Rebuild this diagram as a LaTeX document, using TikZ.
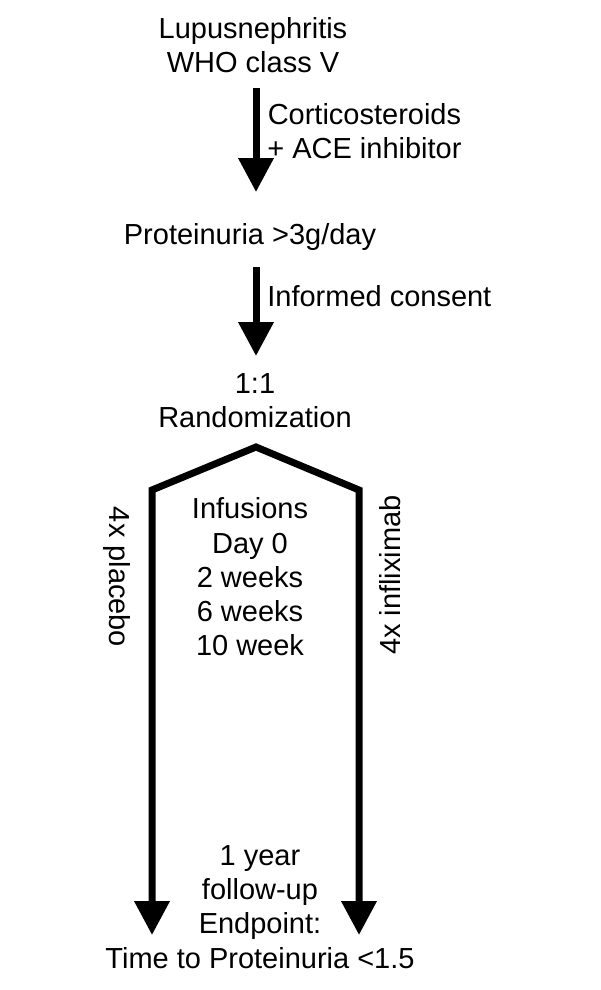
\documentclass[tikz,border=0pt]{standalone}
\usepackage{fontspec}
\setmainfont{Liberation Sans}
\usetikzlibrary{arrows.meta}
\begin{document}
\begin{tikzpicture}[x=0.02cm, y=-0.02cm, font=\fontsize{16.5}{19.5}\selectfont,
		>={Triangle[width=0.68cm, length=0.68cm]},
		txt/.style={align=center, inner sep=0pt},
		bold/.style={line width=0.14cm}]
	\useasboundingbox (0,0) rectangle (600,990);
	
	\node[txt] (lupus) at (253,45) {Lupusnephritis\\WHO class V};
	\node[txt, anchor=west] (cortico) at (267,131) {Corticosteroids\\+ ACE inhibitor};
	\node[txt] (prot) at (250,237) {Proteinuria >3g/day};
	\node[txt, anchor=west] (consent) at (267,296) {Informed consent};
	\node[txt] (random) at (255,401) {1:1\\Randomization};
	\node[txt] (infus) at (250,577) {Infusions\\Day 0\\2 weeks\\6 weeks\\10 week};
	\node[txt, rotate=-90] (placebo) at (117,577) {4x placebo};
	\node[txt, rotate=90] (inflix) at (390,575) {4x infliximab};
	\node[txt] (endp) at (260,907) {1 year\\follow-up\\Endpoint:\\Time to Proteinuria <1.5};
	
	\coordinate (a1) at (256,88);
	\coordinate (b1) at (256,192);
	\coordinate (a2) at (256,267);
	\coordinate (b2) at (256,356);
	\coordinate (peak) at (256,447);
	\coordinate (lcorner) at (152,490);
	\coordinate (rcorner) at (359,490);
	\coordinate (ltip) at (152,935);
	\coordinate (rtip) at (359,935);
	
	\draw[bold, ->] (a1) -- (b1);
	\draw[bold, ->] (a2) -- (b2);
	\draw[bold, <->] (ltip) -- (lcorner) -- (peak) -- (rcorner) -- (rtip);
	
\end{tikzpicture}
\end{document}
